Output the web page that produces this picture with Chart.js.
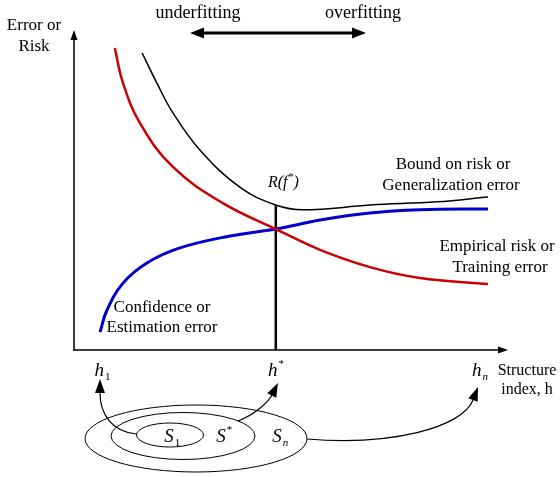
<!DOCTYPE html>
<html>
<head>
<meta charset="utf-8">
<script src="https://cdn.jsdelivr.net/npm/chart.js@4/dist/chart.umd.min.js"></script>
<style>
  html, body { margin: 0; padding: 0; background: #fff; }
  #wrap { width: 560px; height: 477px; position: relative; }
</style>
</head>
<body>
<div id="wrap"><canvas id="srm"></canvas></div>
<script>
// Structural risk minimisation: risk curves against structure index h (0..100 scale)
const trainingX = [9.4, 11.3, 15.2, 22.8, 34.3, 46.5, 56.7, 68.2, 79.7, 95.4];
const trainingY = [94.4, 83.4, 70.9, 57.2, 45.9, 37.8, 31.3, 25.9, 22.5, 20.6];

const boundX = [15.7, 19.1, 22.8, 29.0, 38.2, 46.5, 52.8, 68.2, 83.6, 95.4];
const boundY = [92.8, 83.4, 74.1, 62.5, 50.9, 45.3, 43.8, 45.3, 46.3, 47.8];

const confidenceX = [6.0, 7.6, 11.3, 16.8, 24.4, 35.9, 46.5, 56.7, 68.2, 79.7, 95.4];
const confidenceY = [5.6, 12.5, 20.9, 27.2, 31.9, 35.6, 37.8, 40.6, 42.8, 43.8, 44.1];

const hStar = 46.5;
const riskAtStar = 45.3;
const hTicks = [
  { x: 6.5, base: 'h', sub: '1' },
  { x: hStar, base: 'h', sup: '*' },
  { x: 93.5, base: 'h', sub: 'n' }
];

const toPoints = (xs, ys) => xs.map((x, i) => ({ x: x, y: ys[i] }));

const SERIF = '"Liberation Serif", "Times New Roman", serif';

function arrowHead(ctx, fromX, fromY, tipX, tipY, len, half) {
  const a = Math.atan2(tipY - fromY, tipX - fromX);
  ctx.beginPath();
  ctx.moveTo(tipX, tipY);
  ctx.lineTo(tipX - len * Math.cos(a) + half * Math.sin(a), tipY - len * Math.sin(a) - half * Math.cos(a));
  ctx.lineTo(tipX - len * Math.cos(a) - half * Math.sin(a), tipY - len * Math.sin(a) + half * Math.cos(a));
  ctx.closePath();
  ctx.fill();
}

function label(ctx, text, x, y, size, italic) {
  ctx.font = (italic ? 'italic ' : '') + size + 'px ' + SERIF;
  ctx.textAlign = 'center';
  ctx.textBaseline = 'middle';
  ctx.fillText(text, x, y);
}

// h with sub/superscript, centred on x
function hLabel(ctx, t, x, y) {
  ctx.font = 'italic 19px ' + SERIF;
  ctx.textAlign = 'left';
  ctx.textBaseline = 'middle';
  const w = ctx.measureText(t.base).width;
  const x0 = x - w / 2 - 3;
  ctx.fillText(t.base, x0, y);
  if (t.sub) {
    ctx.font = (t.sub === 'n' ? 'italic ' : '') + '11px ' + SERIF;
    ctx.fillText(t.sub, x0 + w + 1, y + 6);
  }
  if (t.sup) {
    ctx.font = '11px ' + SERIF;
    ctx.fillText(t.sup, x0 + w + 1, y - 7);
  }
}

const decorations = {
  id: 'decorations',
  afterDraw(chart) {
    const ctx = chart.ctx;
    const xs = chart.scales.x, ys = chart.scales.y;
    const x0 = xs.getPixelForValue(0), y0 = ys.getPixelForValue(0);
    const xEnd = xs.right, yTop = ys.top;
    ctx.save();
    ctx.strokeStyle = '#000';
    ctx.fillStyle = '#000';

    // axes
    ctx.lineWidth = 1.5;
    ctx.beginPath();
    ctx.moveTo(x0, y0);
    ctx.lineTo(x0, yTop + 6);
    ctx.moveTo(x0 - 1, y0);
    ctx.lineTo(xEnd - 6, y0);
    ctx.stroke();
    arrowHead(ctx, x0, y0, x0, yTop, 10, 3.5);
    arrowHead(ctx, x0, y0, xEnd, y0, 10, 3.5);

    // under/overfitting double arrow
    ctx.lineWidth = 3;
    ctx.beginPath();
    ctx.moveTo(200, 33);
    ctx.lineTo(356, 33);
    ctx.stroke();
    arrowHead(ctx, 300, 33, 190, 33, 14, 5.5);
    arrowHead(ctx, 250, 33, 366, 33, 14, 5.5);

    // texts
    label(ctx, 'Error or', 34, 26, 17);
    label(ctx, 'Risk', 34, 47, 17);
    label(ctx, 'underfitting', 198, 13, 18);
    label(ctx, 'overfitting', 363, 13, 18);
    label(ctx, 'Bound on risk or', 453, 165, 17);
    label(ctx, 'Generalization error', 451, 186, 17);
    label(ctx, 'Empirical risk or', 497, 247, 17);
    label(ctx, 'Training error', 500, 268, 17);
    label(ctx, 'Confidence or', 162, 308, 17);
    label(ctx, 'Estimation error', 162, 328, 17);
    label(ctx, 'Structure', 527, 371, 16);
    label(ctx, 'index, h', 527, 390, 16);

    // R(f*)
    ctx.font = 'italic 16px ' + SERIF;
    ctx.textAlign = 'left';
    ctx.textBaseline = 'middle';
    ctx.fillText('R(f', 268, 183);
    let w = ctx.measureText('R(f').width;
    ctx.font = '10px ' + SERIF;
    ctx.fillText('*', 268 + w + 1, 177);
    ctx.font = 'italic 16px ' + SERIF;
    ctx.fillText(')', 268 + w + 6, 183);

    // h ticks below the axis
    hTicks.forEach(t => hLabel(ctx, t, xs.getPixelForValue(t.x), y0 + 21));

    // nested hypothesis spaces
    ctx.lineWidth = 1;
    ctx.beginPath(); ctx.ellipse(196, 438.5, 111, 33.5, 0, 0, Math.PI * 2); ctx.stroke();
    ctx.beginPath(); ctx.ellipse(183, 436, 72, 23.5, 0, 0, Math.PI * 2); ctx.stroke();
    ctx.beginPath(); ctx.ellipse(170, 435, 33.5, 12, 0, 0, Math.PI * 2); ctx.stroke();
    hLabel(ctx, { base: 'S', sub: '1' }, 172, 437);
    hLabel(ctx, { base: 'S', sup: '*' }, 224, 437);
    hLabel(ctx, { base: 'S', sub: 'n' }, 280, 437);

    // curved arrows from each space up to its index
    const curves = [
      [136.5, 434, 112, 432, 100, 414, 100, 393, 100, 379],
      [238, 421, 256, 414, 268, 402, 272, 395, 278, 383],
      [307, 439, 390, 446, 462, 428, 473, 400, 478, 387]
    ];
    ctx.lineWidth = 1.2;
    curves.forEach(c => {
      ctx.beginPath();
      ctx.moveTo(c[0], c[1]);
      ctx.bezierCurveTo(c[2], c[3], c[4], c[5], c[6], c[7]);
      ctx.stroke();
      arrowHead(ctx, c[6] - (c[8] - c[6]), c[7] - (c[9] - c[7]), c[8], c[9], 14, 5);
    });

    ctx.restore();
  }
};

new Chart(document.getElementById('srm'), {
  type: 'line',
  data: {
    datasets: [
      {
        label: 'Empirical risk',
        data: toPoints(trainingX, trainingY),
        borderColor: '#cc0000',
        borderWidth: 2.5,
        tension: 0.4
      },
      {
        label: 'Bound on risk',
        data: toPoints(boundX, boundY),
        borderColor: '#000000',
        borderWidth: 1.5,
        tension: 0.4
      },
      {
        label: 'Confidence',
        data: toPoints(confidenceX, confidenceY),
        borderColor: '#0000cc',
        borderWidth: 3,
        tension: 0.4
      },
      {
        label: 'h*',
        data: [{ x: hStar, y: 0 }, { x: hStar, y: riskAtStar }],
        borderColor: '#000000',
        borderWidth: 2.5
      }
    ]
  },
  options: {
    responsive: true,
    maintainAspectRatio: false,
    animation: false,
    layout: { padding: { left: 74, right: 52, top: 30, bottom: 127 } },
    elements: { point: { radius: 0 } },
    scales: {
      x: { type: 'linear', min: 0, max: 100, display: false },
      y: { type: 'linear', min: 0, max: 100, display: false }
    },
    plugins: {
      legend: { display: false },
      tooltip: { enabled: false }
    }
  },
  plugins: [decorations]
});
</script>
</body>
</html>
